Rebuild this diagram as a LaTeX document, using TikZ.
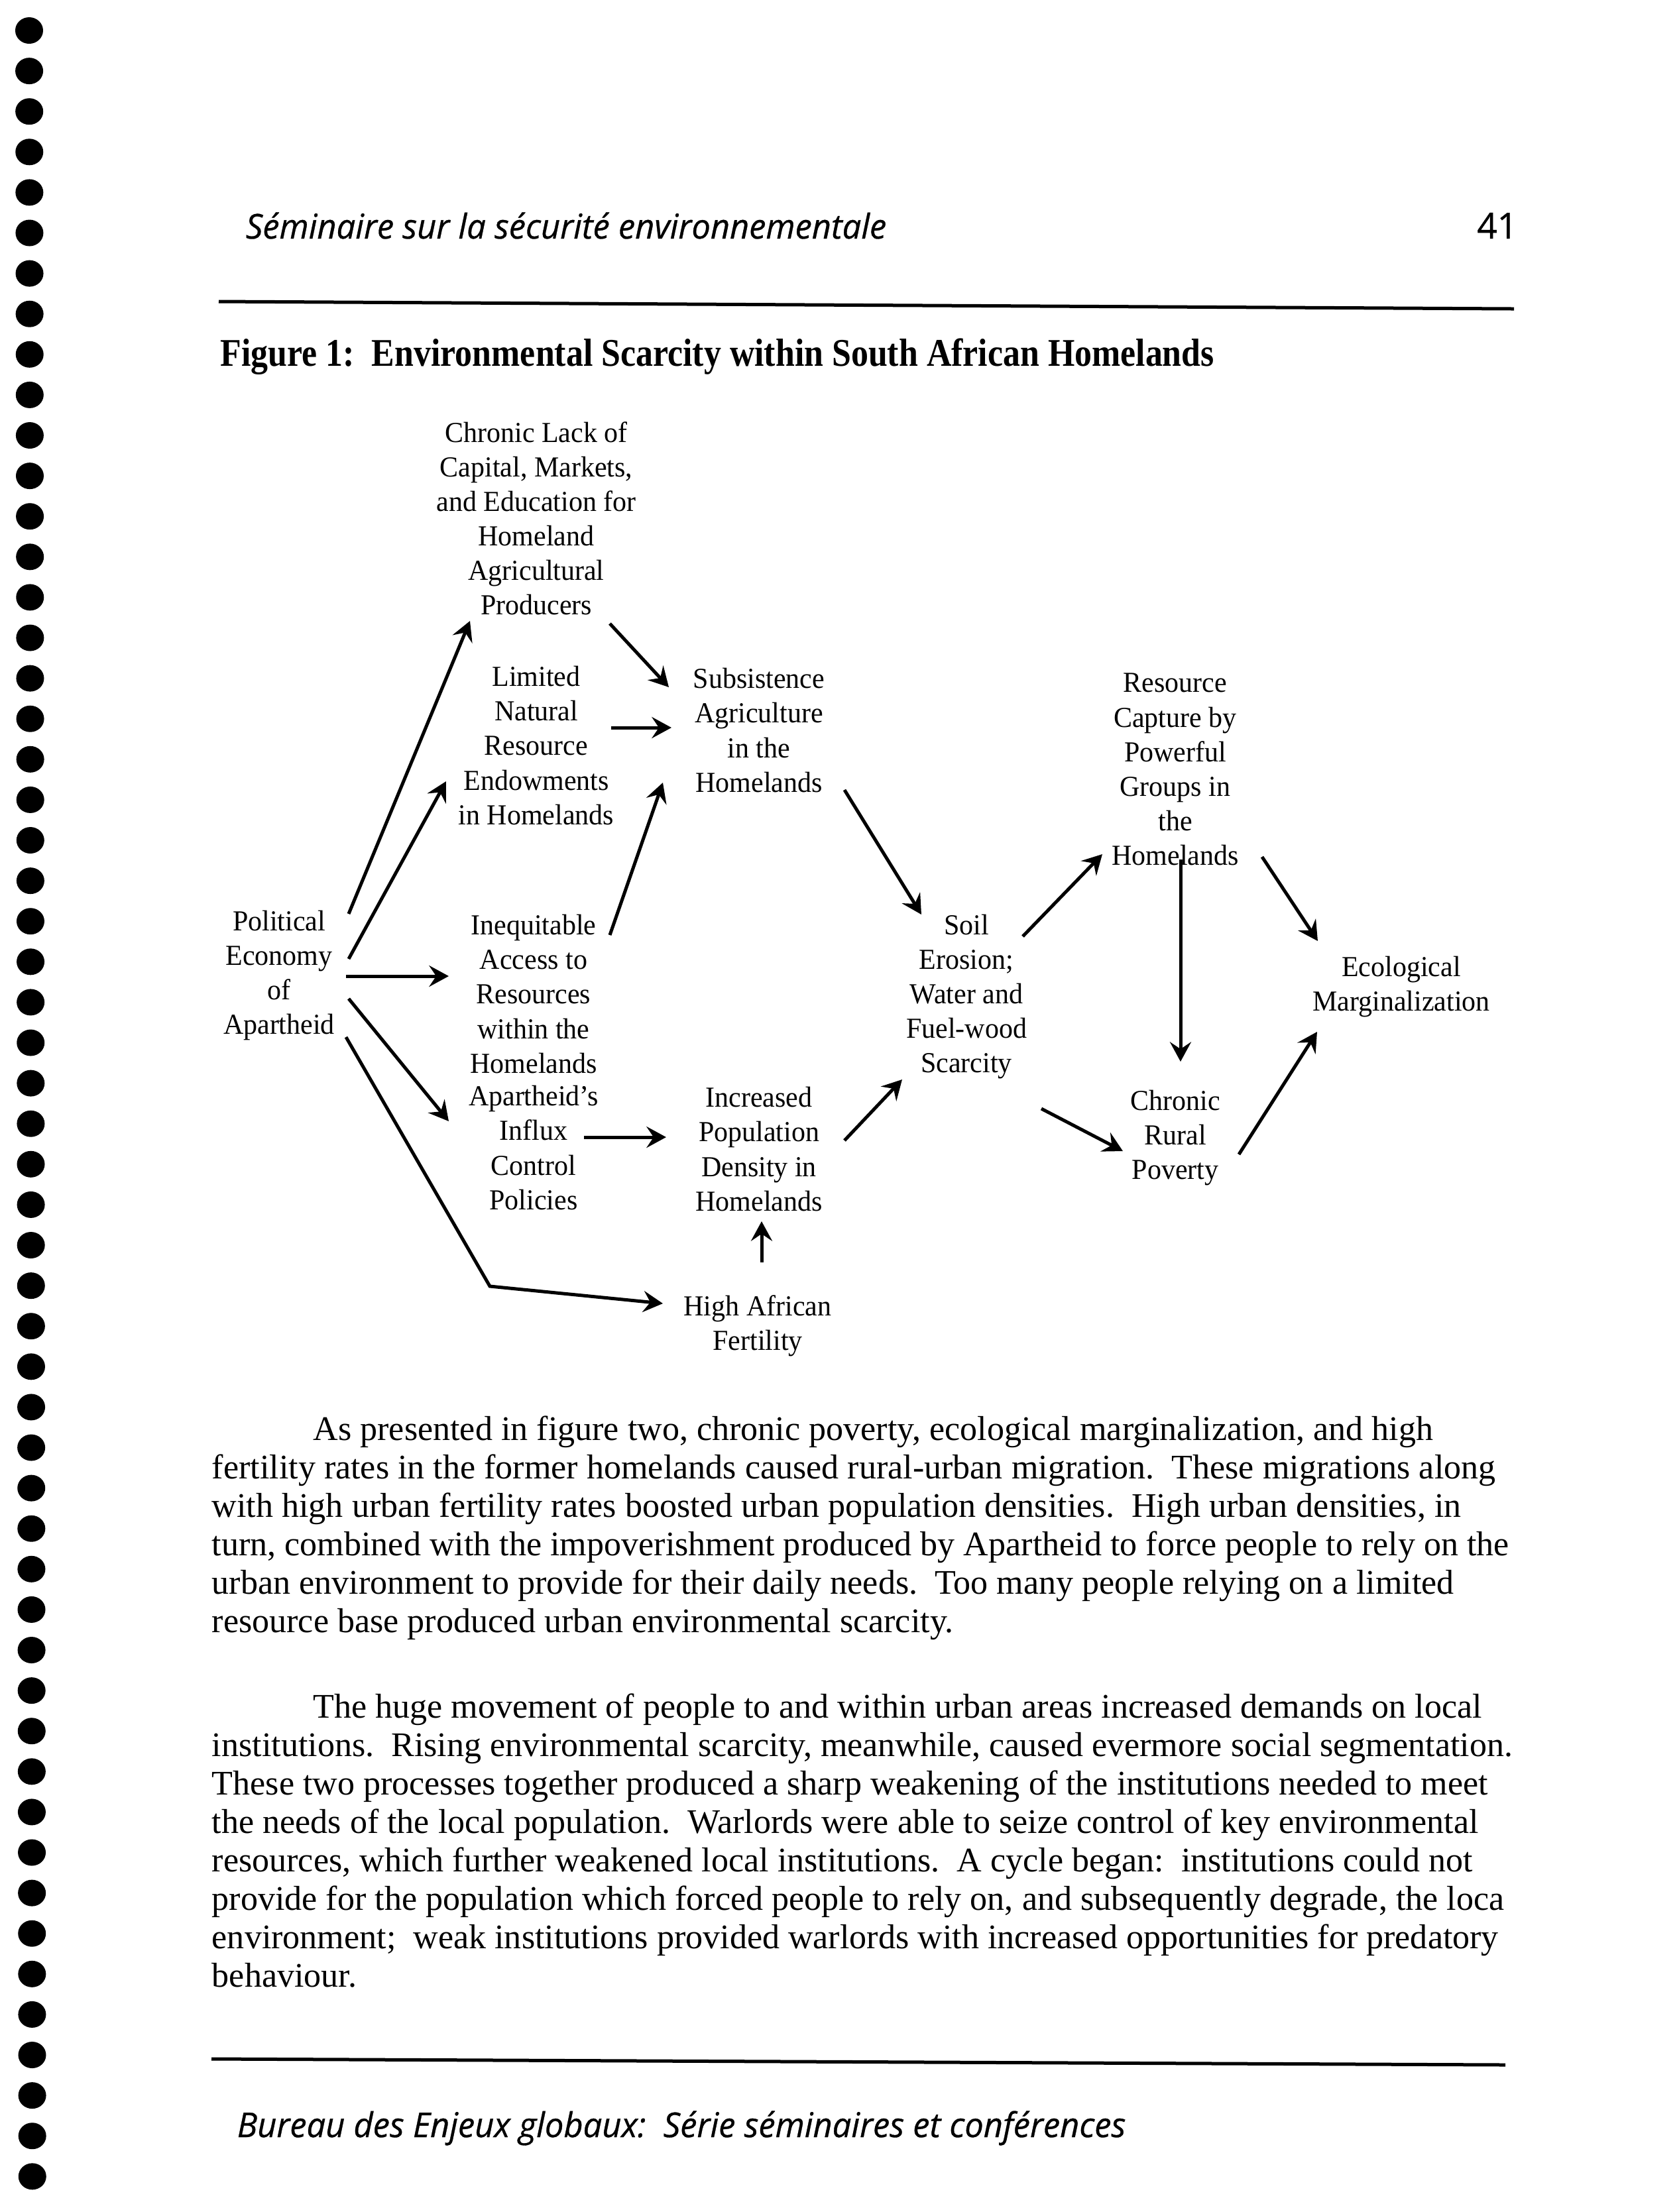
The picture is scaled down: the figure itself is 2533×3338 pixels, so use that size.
\documentclass[tikz,border=0pt]{standalone}
\usepackage{fontspec}
\setmainfont{Liberation Serif}
\newfontfamily\headfont[FakeStretch=0.98, FakeBold=0.6]{Open Sans}
\newfontfamily\diagfont[FakeStretch=0.96]{Liberation Serif}
\newfontfamily\titlefont[FakeStretch=0.877]{Liberation Serif}
\usetikzlibrary{arrows.meta, calc}

\begin{document}
\begin{tikzpicture}[
    x=0.24pt, y=-0.24pt,
    lbl/.style={align=center, inner sep=0pt, font=\diagfont\fontsize{10.5}{12.5}\selectfont},
    arrow/.style={-{Stealth[length=2.5mm, width=2.7mm, inset=0.9mm]}, line width=1.2pt},
    rule/.style={line width=1.2pt},
    hole/.style={fill=black},
    head/.style={inner sep=0pt, font=\headfont\itshape\fontsize{12.4}{14}\selectfont},
    body/.style={anchor=base west, align=left, inner sep=0pt, font=\fontsize{12.5}{13.9}\selectfont},
  ]
  \fill[white] (0,0) rectangle (2533,3338);
  \useasboundingbox (0,0) rectangle (2533,3338);
  % binder holes
  \foreach \i in {0,...,53}
    \fill[hole] ({44+0.09*\i},{46+61.1*\i}) ellipse [x radius=21, y radius=20];
  % running head
  \node[head, anchor=base west] (runhead) at (370,360) {Séminaire sur la sécurité environnementale};
  \node[head, anchor=base east, font=\headfont\fontsize{13}{14}\selectfont] (pagenum) at (2290,360) {41};
  \draw[rule] (330,455) -- (2284,466);
  \node[anchor=base west, inner sep=0pt, font=\titlefont\bfseries\fontsize{14.2}{16}\selectfont] (title) at (332,552)
    {Figure 1:\ \ Environmental Scarcity within South African Homelands};
  % diagram
  \node[lbl] (capital) at (809,782) {Chronic Lack of\\Capital, Markets,\\and Education for\\Homeland\\Agricultural\\Producers};
  \node[lbl] (limited) at (809,1125) {Limited\\Natural\\Resource\\Endowments\\in Homelands};
  \node[lbl] (ineq) at (805,1500) {Inequitable\\Access to\\Resources\\within the\\Homelands};
  \node[lbl] (influx) at (805,1732) {Apartheid’s\\Influx\\Control\\Policies};
  \node[lbl] (political) at (421,1472) {Political\\Economy\\of\\Apartheid};
  \node[lbl] (subsist) at (1145,1102) {Subsistence\\Agriculture\\in the\\Homelands};
  \node[lbl] (popdens) at (1145,1734) {Increased\\Population\\Density in\\Homelands};
  \node[lbl] (fertility) at (1143,2001) {High African\\Fertility};
  \node[lbl] (soil) at (1458,1504) {Soil\\Erosion;\\Water and\\Fuel-wood\\Scarcity};
  \node[lbl] (capture) at (1773,1161) {Resource\\Capture by\\Powerful\\Groups in\\the\\Homelands};
  \node[lbl] (poverty) at (1773,1717) {Chronic\\Rural\\Poverty};
  \node[lbl] (ecomarg) at (2114,1489) {Ecological\\Marginalization};
  % Arrows
  \draw[arrow] ($(political)+(105,-93)$) -- ($(capital)+(-100,155)$);
  \draw[arrow] ($(political)+(105,-25)$) -- ($(limited)+(-136,54)$);
  \draw[arrow] ($(political)+(101,1)$) -- ($(ineq)+(-128,-27)$);
  \draw[arrow] ($(political)+(105,35)$) -- ($(influx)+(-128,-40)$);
  \draw[arrow] ($(political)+(101,93)$) -- ($(fertility)+(-404,-60)$) -- ($(fertility)+(-143,-34)$);
  \draw[arrow] ($(capital)+(111,159)$) -- ($(subsist)+(-136,-65)$);
  \draw[arrow] ($(limited)+(113,-27)$) -- ($(subsist)+(-132,-4)$);
  \draw[arrow] ($(ineq)+(115,-89)$) -- ($(subsist)+(-145,79)$);
  \draw[arrow] ($(influx)+(76,-16)$) -- ($(popdens)+(-140,-18)$);
  \draw[arrow] ($(fertility)+(6,-96)$) -- ($(popdens)+(4,109)$);
  \draw[arrow] ($(subsist)+(129,90)$) -- ($(soil)+(-68,-124)$);
  \draw[arrow] ($(popdens)+(129,-13)$) -- ($(soil)+(-97,125)$);
  \draw[arrow] ($(soil)+(85,-91)$) -- ($(capture)+(-110,128)$);
  \draw[arrow] ($(soil)+(113,169)$) -- ($(poverty)+(-79,20)$);
  \draw[arrow] ($(capture)+(8,136)$) -- ($(poverty)+(8,-115)$);
  \draw[arrow] ($(capture)+(131,132)$) -- ($(ecomarg)+(-126,-69)$);
  \draw[arrow] ($(poverty)+(96,25)$) -- ($(ecomarg)+(-127,68)$);
  % text (base = last line)
  \node[body] (para1) at (319,2463) {\hspace*{36.7pt}As presented in figure two, chronic poverty, ecological marginalization, and high\\
    fertility rates in the former homelands caused rural-urban migration.\ \ These migrations along\\
    with high urban fertility rates boosted urban population densities.\ \ High urban densities, in\\
    turn, combined with the impoverishment produced by Apartheid to force people to rely on the\\
    urban environment to provide for their daily needs.\ \ Too many people relying on a limited\\
    resource base produced urban environmental scarcity.};
  \node[body] (para2) at (319,2998) {\hspace*{36.7pt}The huge movement of people to and within urban areas increased demands on local\\
    institutions.\ \ Rising environmental scarcity, meanwhile, caused evermore social segmentation.\\
    These two processes together produced a sharp weakening of the institutions needed to meet\\
    the needs of the local population.\ \ Warlords were able to seize control of key environmental\\
    resources, which further weakened local institutions.\ \ A cycle began:\ \ institutions could not\\
    provide for the population which forced people to rely on, and subsequently degrade, the loca\\
    environment;\ \ weak institutions provided warlords with increased opportunities for predatory\\
    behaviour.};
  % running foot
  \draw[rule] (319,3107) -- (2271,3116);
  \node[head, anchor=base west] (runfoot) at (357,3225) {Bureau des Enjeux globaux:\ \ Série séminaires et conférences};
\end{tikzpicture}
\end{document}
